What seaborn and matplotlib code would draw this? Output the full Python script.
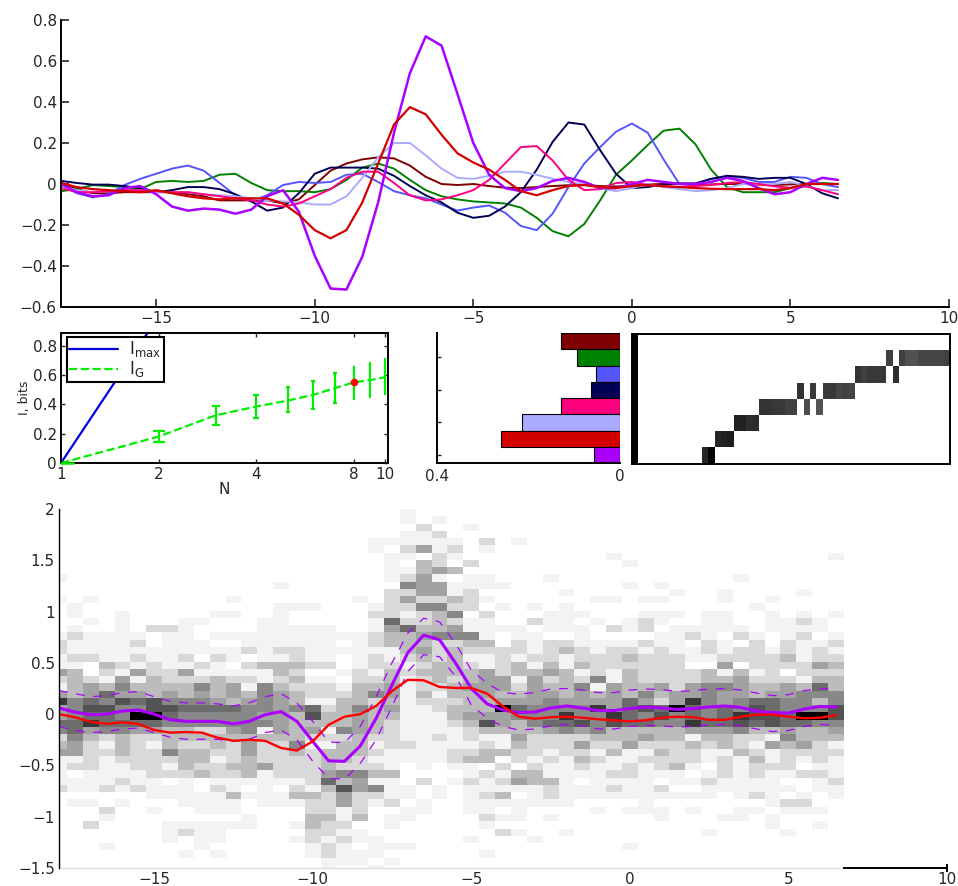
import numpy as np
import pandas as pd
import matplotlib
matplotlib.use("Agg")
import matplotlib.pyplot as plt
from matplotlib.colors import ListedColormap
import seaborn as sns

sns.set_style("white")
plt.rcParams['font.family'] = ['DejaVu Sans']
plt.rcParams['mathtext.default'] = 'regular'

W, H = 958, 886
FS = 11

# time axis shared by all the curves
t = np.arange(-18, 6.75, 0.5)

purple = [0, -.04, -.06, -.055, -.02, -.01, -.05, -.11, -.13, -.12, -.125, -.145, -.125, -.06, -.03, -.135, -.35, -.51, -.515, -.355,
          -.09, .25, .54, .72, .675, .44, .2, .045, -.02, -.035, -.02, .015, .03, .01, -.02, -.02, 0, .02, .01, 0,
          0, .01, .03, .015, -.02, -.05, -.04, 0, .03, .02]
red = [.005, -.015, -.025, -.03, -.035, -.04, -.03, -.045, -.06, -.07, -.075, -.07, -.07, -.07, -.095, -.15, -.225, -.265, -.225, -.09,
       .1, .29, .375, .34, .24, .15, .105, .07, .02, -.035, -.055, -.03, -.01, -.005, -.015, -.02, -.01, -.005, -.01, -.015,
       -.02, -.023, -.025, -.025, -.025, -.03, -.02, 0, 0, 0]
light = [-.01, -.03, -.04, -.035, -.03, -.03, -.04, -.04, -.04, -.05, -.055, -.06, -.07, -.08, -.085, -.09, -.1, -.1, -.06, .03,
         .13, .2, .2, .14, .075, .03, .025, .04, .06, .06, .045, .025, .01, 0, -.02, -.035, -.02, 0, -.015, -.025,
         -.035, -.03, -.02, 0, 0, 0, .01, -.01, -.03, -.03]
pink = [-.02, -.04, -.04, -.035, -.03, -.03, -.035, -.04, -.04, -.05, -.06, -.07, -.08, -.1, -.11, -.095, -.06, -.025, .03, .06,
        .06, .005, -.055, -.08, -.075, -.055, -.03, .02, .1, .18, .185, .115, .02, -.03, -.025, .005, .01, -.005, -.012, -.015,
        -.01, -.005, .005, .01, 0, -.012, -.018, -.012, -.03, -.05]
navy = [.015, .005, -.003, -.003, -.01, -.02, -.04, -.03, -.015, -.015, -.025, -.05, -.085, -.13, -.115, -.045, .05, .08, .08, .08,
        .075, .04, -.01, -.055, -.09, -.14, -.165, -.155, -.11, -.04, .07, .205, .3, .29, .165, .05, -.02, -.015, 0, .003,
        .003, .025, .04, .035, .025, .03, .03, 0, -.045, -.07]
blue = [0, -.045, -.065, -.05, -.005, .025, .05, .075, .09, .065, .005, -.055, -.085, -.055, -.005, .01, .005, .01, .045, .05,
        .01, -.035, -.055, -.07, -.1, -.13, -.115, -.105, -.14, -.205, -.225, -.145, -.015, .1, .18, .255, .295, .25, .12, 0,
        0, .025, .035, .03, .01, .01, .035, .03, 0, -.015]
green = [-.035, -.025, -.005, -.01, -.015, -.025, .01, .015, .01, .015, .045, .05, .005, -.03, -.035, -.035, -.04, -.025, .02, .08,
         .1, .075, .02, -.03, -.06, -.075, -.085, -.09, -.095, -.115, -.165, -.23, -.255, -.195, -.08, .045, .115, .19, .26, .27,
         .195, .07, -.015, -.04, -.04, -.04, -.02, 0, .005, 0]
dark_red = [.005, -.025, -.045, -.045, -.04, -.04, -.04, -.04, -.05, -.06, -.08, -.08, -.08, -.08, -.095, -.075, -.005, .065, .1, .12,
            .13, .125, .09, .035, 0, -.005, 0, -.01, -.018, -.02, -.015, -.01, -.006, -.005, -.01, -.012, -.008, -.002, 0, 0,
            -.005, -.002, 0, 0, -.003, -.005, -.002, 0, 0, 0]

curve_colors = {'dark_red': '#7f0000', 'green': '#008000', 'blue': '#5555ff', 'navy': '#000055',
                'light': '#aaaaff', 'pink': '#ff0080', 'purple': '#aa00ff', 'red': '#d40000'}

# info vs N
n_max = [1, 2, 4, 8, 10]
i_max = [0, 1, 2, 3, 3.32]
n_g = [1, 2, 3, 4, 5, 6, 7, 8, 9, 10]
i_g = [0, .18, .325, .385, .425, .465, .51, .55, .565, .585]
i_g_low = [0, .14, .26, .31, .345, .37, .41, .435, .45, .47]
i_g_high = [0, .22, .39, .465, .515, .56, .615, .655, .68, .71]

# bars, top to bottom
bar_names = ['dark_red', 'green', 'blue', 'navy', 'pink', 'light', 'red', 'purple']
bar_values = [.13, .094, .052, .064, .13, .215, .26, .056]

# gray level of the non empty cells, by row and column of the assignment map
assign_purple = {11: .15, 12: .02}
assign_red = {13: .15, 14: .13, 15: .12}
assign_light = {16: .13, 17: .13, 18: .18, 19: .17}
assign_pink = {20: .2, 21: .2, 22: .22, 23: .22, 24: .25, 25: .25, 27: .3, 29: .33}
assign_navy = {26: .2, 28: .22, 30: .22, 31: .22, 32: .27, 33: .25, 34: .27}
assign_blue = {35: .2, 36: .25, 37: .22, 38: .22, 39: .22, 41: .18}
assign_green = {40: .25, 42: .25, 43: .32, 44: .32, 45: .27, 46: .27, 47: .27, 48: .27, 49: .25}
assign_rows = [{}, assign_green, assign_blue, assign_navy, assign_pink, assign_light, assign_red, assign_purple]

# density cells, darkness 0-9, top row first
density_rows = [
    "0000000000 0000000000 0010000000 0000000000 0000000000",
    "0000000000 0000000000 0010100000 0000000000 0000000000",
    "0000000000 0000000000 0002001000 0000000000 0000000000",
    "0000000000 0000000000 0011200000 0000000000 0000000000",
    "0000000000 0000000000 1111110201 0000000000 0000000000",
    "0000000000 0000000000 1024120100 0000000000 0000000000",
    "0000000000 0000000000 0110210000 0000010000 0000000001",
    "0000000000 0000000000 0103202000 0000001000 0000000000",
    "0000000000 0000000000 0113430000 0000000000 0000000000",
    "1000000000 0000000000 0124101100 0100000000 0001000000",
    "0000000000 0000100000 0054411110 0000001010 0000000000",
    "0000000000 0000000000 0224412000 0010000001 0010000100",
    "1010000000 0100000001 0242232100 0000110110 0010010000",
    "0100000000 0000111000 1225522010 1010000000 0000100000",
    "0100100000 1100100000 2212350200 0111000111 0110010101",
    "0010100011 0001100000 1622321100 2110101210 0110011210",
    "0100102210 0001111100 1463341111 0111021201 1111011110",
    "1211110110 1111111111 2334555101 1001000011 2102101201",
    "2111120111 0011111101 2333223302 1221111211 0210202112",
    "2111111111 1121221111 1134232222 1232122121 1212212121",
    "1221121120 2101121101 2123231121 2212223222 1122223122",
    "1103212112 1023332201 2212332123 1313222222 0040222243",
    "4302142241 1111320012 1323333423 3431213222 2313120222",
    "2321413222 3221231102 2312323441 4232513222 2334222133",
    "1343533335 3415322213 3412234442 4335143342 4554334363",
    "4346443434 3435432223 5413133433 4434343534 4544344555",
    "8565767555 4345431133 2312223344 4544446424 8545665535",
    "4577557766 6655456235 3411233396 5555846769 6565765557",
    "4566599655 5554437334 3311134445 5585586575 6568776997",
    "6686666555 5555433334 3211123743 5667576655 8667676655",
    "5645544332 2451434154 3211112333 3454533333 4445334334",
    "2532322333 3333332223 2211212114 2222333433 1332215333",
    "3421321322 3242251133 1221111213 2224224222 3232143421",
    "4422322533 2242232333 2111122332 2122131132 2113212222",
    "1121222233 1232222332 1111123302 1213211222 2121312121",
    "1221122132 2334222322 2101011020 2112112123 1021222011",
    "1011112223 2231222455 3300001213 3111122111 0121211221",
    "1111211010 1111112634 1102012124 3310111101 1211110012",
    "2112121110 2101021374 5110101111 1211121120 0111111011",
    "0000001111 1311133242 2110101230 1211111111 1101210101",
    "0110100011 1101112242 1201001111 1110000100 0000012200",
    "0002001001 1100002212 0011001101 0000101110 1001101110",
    "0001000000 0010003313 0110000211 0100000010 0011010000",
    "0020000111 1110013220 0100000100 0000000000 0000010010",
    "0000000121 1000002211 0000000021 0010000000 0100001000",
    "0000000101 1000012121 1000001000 1000000000 0000000000",
    "0001000001 0000001210 1110000000 0000001000 0000000000",
    "0000000010 1000001211 1000000100 0000000000 0000000000",
    "0000000000 0000000111 0100000000 0000000000 0000000000",
    "0000000000 0000000100 1000000000 0000000000 0000000000",
]

mean_purple = [.06, .02, -.005, 0, .03, .04, 0, -.055, -.07, -.07, -.07, -.095, -.07, -.005, .025, -.07, -.265, -.455, -.46, -.31,
               -.04, .285, .6, .77, .725, .5, .25, .1, .04, .015, .02, .06, .08, .06, .035, .035, .055, .07, .06, .045,
               .055, .07, .08, .065, .03, .015, .01, .05, .075, .07]
upper_purple = [.23, .2, .17, .18, .21, .22, .17, .125, .11, .11, .1, .08, .11, .17, .2, .11, -.07, -.27, -.28, -.12,
                .17, .5, .79, .935, .9, .69, .43, .3, .21, .195, .21, .245, .25, .235, .21, .21, .235, .245, .24, .22,
                .23, .245, .25, .235, .205, .18, .19, .23, .25, .245]
lower_purple = [-.12, -.16, -.18, -.17, -.145, -.135, -.18, -.225, -.245, -.245, -.245, -.265, -.245, -.18, -.155, -.25, -.46, -.625, -.635, -.48,
                -.25, .075, .415, .58, .56, .37, .09, -.04, -.12, -.155, -.145, -.115, -.1, -.115, -.145, -.145, -.12, -.11, -.115, -.125,
                -.12, -.105, -.1, -.115, -.145, -.17, -.16, -.12, -.1, -.11]
mean_red = [0, -.03, -.075, -.095, -.08, -.095, -.155, -.18, -.175, -.18, -.23, -.26, -.25, -.26, -.33, -.355, -.265, -.105, -.025, 0,
            .08, .225, .335, .33, .265, .255, .255, .2, .075, -.025, -.045, -.03, -.025, -.035, -.05, -.06, -.07, -.06, -.035, -.025,
            -.03, -.055, -.055, -.025, -.005, -.005, -.025, -.04, -.035, -.01]


def make_axes(left, top, right, bottom):
    """Axes from pixel edges of the picture"""
    return fig.add_axes([left / W, 1 - bottom / H, (right - left) / W, (bottom - top) / H])


fig = plt.figure(figsize=(W / 100, H / 100), dpi=100)

# top curves
ax = make_axes(61, 20, 949, 307)
for name, curve in [('dark_red', dark_red), ('green', green), ('blue', blue), ('navy', navy),
                    ('light', light), ('pink', pink), ('purple', purple), ('red', red)]:
    width = 1.8 if name == 'purple' else 1.6 if name == 'red' else 1.4
    sns.lineplot(x=t, y=curve, color=curve_colors[name], linewidth=width, ax=ax)
ax.set_xlim(-18, 10)
ax.set_ylim(-.6, .8)
ax.set_xticks([-15, -10, -5, 0, 5, 10], ['\u221215', '\u221210', '\u22125', '0', '5', '10'])
ax.set_yticks([-.6, -.4, -.2, 0, .2, .4, .6, .8],
              ['\u22120.6', '\u22120.4', '\u22120.2', '0', '0.2', '0.4', '0.6', '0.8'])
ax.tick_params(direction='in', length=6, width=1.2, labelsize=FS, pad=3, left=True, bottom=True)
sns.despine(ax=ax)
for s in ['left', 'bottom']:
    ax.spines[s].set_linewidth(1.4)
    ax.spines[s].set_color('k')

# info vs N
ax = make_axes(61, 333, 388, 463)
sns.lineplot(x=n_max, y=i_max, color='#0000e0', linewidth=1.6, label='I$_{max}$', ax=ax)
sns.lineplot(x=n_g, y=i_g, color='#00ee00', linewidth=1.6, linestyle='--', label='I$_G$', ax=ax)
for n, y, lo, hi in zip(n_g, i_g, i_g_low, i_g_high):
    ax.errorbar(n, y, yerr=[[y - lo], [hi - y]], color='#00ee00', elinewidth=1.6, capthick=1.6, capsize=8.6 / n)
ax.plot([n_g[0], 1.09], [i_g[0], i_g[0]], color='#00ee00', linewidth=1.8, clip_on=False, zorder=6)
ax.plot(n_g[7], i_g[7], 'o', color='#ff0000', markersize=4.5, zorder=5)
ax.set_xscale('log')
ax.set_xlim(1, 10.2)
ax.set_ylim(0, .886)
ax.set_xticks([1, 2, 4, 8, 10], ['1', '2', '4', '8', '10'])
ax.minorticks_off()
ax.set_yticks([0, .2, .4, .6, .8], ['0', '0.2', '0.4', '0.6', '0.8'])
ax.tick_params(direction='in', length=3, width=1, labelsize=FS, pad=3, left=True, bottom=True, right=True, top=True)
ax.set_xlabel('N', fontsize=FS, labelpad=0)
ax.set_ylabel('I, bits', fontsize=FS - 2, labelpad=1)
for s in ax.spines.values():
    s.set_linewidth(1.4)
    s.set_color('k')
leg = ax.legend(loc='upper left', bbox_to_anchor=(.018, .97), borderaxespad=0, fancybox=False, framealpha=1,
                edgecolor='k', fontsize=FS + 1, handlelength=2.9, labelspacing=0, borderpad=.15, handletextpad=.7)
leg.get_frame().set_linewidth(1.5)

# bars
ax = make_axes(437, 333, 620, 463)
bars = pd.DataFrame({'name': bar_names, 'value': bar_values})
sns.barplot(data=bars, x='value', y='name', hue='name', palette=curve_colors, order=bar_names, width=1,
            edgecolor='k', linewidth=.8, dodge=False, legend=False, saturation=1, ax=ax)
ax.set_xlim(.4, 0)
ax.set_ylim(7.5, -.5)
ax.set_xticks([.4, 0], ['0.4', '0'])
ax.set_yticks([1, 3, 5, 7], [])
ax.set_xlabel('')
ax.set_ylabel('')
ax.tick_params(direction='in', length=3, width=1, labelsize=FS, pad=4, left=True, bottom=False)
sns.despine(ax=ax)
for s in ['left', 'bottom']:
    ax.spines[s].set_linewidth(1.4)
    ax.spines[s].set_color('k')

# assignment map
assign = np.ones((8, 50))
assign[:, 0] = 0
for i, row in enumerate(assign_rows):
    for col, level in row.items():
        assign[i, col] = level
ax = make_axes(632, 334, 950, 463.5)
sns.heatmap(assign, vmin=0, vmax=1, cmap='gray', cbar=False, xticklabels=False, yticklabels=False, ax=ax)
ax.set_xticks([10.33, 20.1, 29.9, 39.7, 49.5])
ax.set_yticks([1.5, 3.5, 5.5, 7.5])
ax.tick_params(direction='in', length=2.5, width=1, left=False, bottom=True, top=True, right=True,
               labelleft=False, labelbottom=False)
for s in ax.spines.values():
    s.set_visible(True)
    s.set_linewidth(1.4)
    s.set_color('k')

# density and means
density = np.array([[int(c) for c in row.replace(' ', '')] for row in density_rows])
grays = ListedColormap(['#ffffff', '#f3f3f3', '#d9d9d9', '#bcbcbc', '#a2a2a2', '#888888', '#6c6c6c', '#535353', '#383838', '#000000'])


def to_col(x):
    return (np.asarray(x) + 18.25) / .5


def to_row(y):
    return (2 - np.asarray(y)) / .0708


ax = make_axes(59, 509, 947, 868)
sns.heatmap(density, vmin=-.5, vmax=9.5, cmap=grays, cbar=False, xticklabels=False, yticklabels=False, ax=ax)
ax.set_xlim(to_col(-18), to_col(10))
ax.set_ylim(to_row(-1.5), to_row(2))
sns.lineplot(x=to_col(t), y=to_row(upper_purple), color='#aa00ff', linewidth=.9, linestyle=(0, (7, 7)), ax=ax)
sns.lineplot(x=to_col(t), y=to_row(lower_purple), color='#aa00ff', linewidth=.9, linestyle=(0, (7, 7)), ax=ax)
sns.lineplot(x=to_col(t), y=to_row(mean_purple), color='#aa00ff', linewidth=2.2, ax=ax)
sns.lineplot(x=to_col(t), y=to_row(mean_red), color='#ff0000', linewidth=1.7, ax=ax)
ax.set_xticks(to_col([-15, -10, -5, 0, 5, 10]), ['\u221215', '\u221210', '\u22125', '0', '5', '10'])
ax.set_yticks(to_row([-1.5, -1, -.5, 0, .5, 1, 1.5, 2]),
              ['\u22121.5', '\u22121', '\u22120.5', '0', '0.5', '1', '1.5', '2'], rotation=0)
ax.tick_params(length=0, labelsize=FS, pad=3, left=False, bottom=False)
for s in ['top', 'right']:
    ax.spines[s].set_visible(False)
ax.spines['left'].set_visible(True)
ax.spines['left'].set_linewidth(1)
ax.spines['left'].set_color('k')
ax.spines['bottom'].set_visible(True)
ax.spines['bottom'].set_linewidth(1.4)
ax.spines['bottom'].set_color('k')
ax.spines['bottom'].set_bounds(to_col(6.75), to_col(10))
ax.plot(to_col([-18, 6.75]), to_row([-1.5, -1.5]), color='#dddddd', linewidth=1, clip_on=False)
ax.plot(to_col(10), to_row(-1.5), marker='|', color='k', markersize=6, markeredgewidth=1.4, clip_on=False)

fig.savefig('out.png', dpi=100)
